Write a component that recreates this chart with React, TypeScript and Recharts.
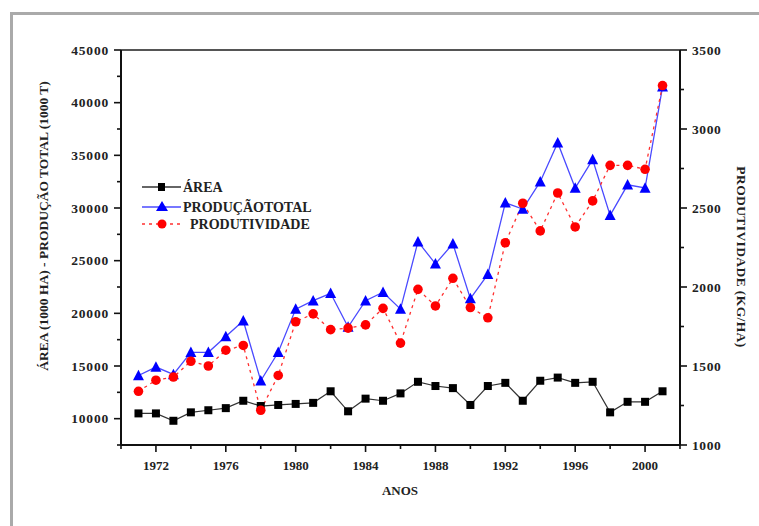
import React from "react";
import { LineChart, Line, XAxis, YAxis, ReferenceLine } from "recharts";

const years = [1971, 1972, 1973, 1974, 1975, 1976, 1977, 1978, 1979, 1980, 1981, 1982, 1983, 1984, 1985, 1986, 1987, 1988, 1989, 1990, 1991, 1992, 1993, 1994, 1995, 1996, 1997, 1998, 1999, 2000, 2001];
const area = [10500, 10500, 9800, 10600, 10800, 11000, 11700, 11200, 11300, 11400, 11500, 12600, 10700, 11900, 11700, 12400, 13500, 13100, 12900, 11300, 13100, 13400, 11700, 13600, 13900, 13400, 13500, 10600, 11600, 11600, 12600];
const producao = [14100, 14900, 14200, 16300, 16300, 17800, 19300, 13600, 16300, 20400, 21200, 21900, 18700, 21200, 22000, 20400, 26800, 24700, 26600, 21400, 23700, 30500, 29900, 32500, 36200, 31900, 34600, 29300, 32200, 31900, 41500];
const produtividade = [1340, 1410, 1430, 1530, 1500, 1600, 1630, 1220, 1440, 1780, 1830, 1730, 1740, 1760, 1865, 1645, 1985, 1880, 2055, 1870, 1805, 2280, 2530, 2355, 2595, 2380, 2545, 2770, 2770, 2745, 3275];

const xTicks = [1970, 1972, 1974, 1976, 1978, 1980, 1982, 1984, 1986, 1988, 1990, 1992, 1994, 1996, 1998, 2000, 2002];
const xMajor = [1972, 1976, 1980, 1984, 1988, 1992, 1996, 2000];
const leftTicks = [7500, 10000, 12500, 15000, 17500, 20000, 22500, 25000, 27500, 30000, 32500, 35000, 37500, 40000, 42500, 45000];
const leftMajor = [10000, 15000, 20000, 25000, 30000, 35000, 40000, 45000];
const rightTicks = [1000, 1250, 1500, 1750, 2000, 2250, 2500, 2750, 3000, 3250, 3500];
const rightMajor = [1000, 1500, 2000, 2500, 3000, 3500];

const seriesNames = ["ÁREA", "PRODUÇÃOTOTAL", "PRODUTIVIDADE"];
const leftTitle = "ÁREA (1000 HA) - PRODUÇÃO TOTAL (1000 T)";
const rightTitle = "PRODUTIVIDADE (KG/HA)";
const xTitle = "ANOS";

const data = years.map((y, i) => ({
  year: y,
  area: area[i],
  producao: producao[i],
  produtividade: produtividade[i],
}));

const FONT = '"Liberation Serif", "Times New Roman", serif';
const AX = "#111";

const LeftTick = (props: any) => {
  const { x, y, payload } = props;
  const major = leftMajor.includes(payload.value);
  return (
    <g>
      <line x1={x} x2={x - (major ? 7 : 4)} y1={y} y2={y} stroke={AX} strokeWidth={1.6} />
      {major && (
        <text x={x - 12} y={y} dy={4.5} textAnchor="end" fontFamily={FONT} fontWeight="bold" fontSize={13.5} letterSpacing={0.8} fill="#222">
          {payload.value}
        </text>
      )}
    </g>
  );
};

const RightTick = (props: any) => {
  const { x, y, payload } = props;
  const major = rightMajor.includes(payload.value);
  return (
    <g>
      <line x1={x} x2={x + (major ? 7 : 4)} y1={y} y2={y} stroke={AX} strokeWidth={1.6} />
      {major && (
        <text x={x + 12} y={y} dy={4.5} textAnchor="start" fontFamily={FONT} fontWeight="bold" fontSize={13.5} letterSpacing={0.6} fill="#222">
          {payload.value}
        </text>
      )}
    </g>
  );
};

const BottomTick = (props: any) => {
  const { x, y, payload } = props;
  const major = xMajor.includes(payload.value);
  return (
    <g>
      <line x1={x} x2={x} y1={y} y2={y + (major ? 7 : 4)} stroke={AX} strokeWidth={1.6} />
      {major && (
        <text x={x} y={y + 25} textAnchor="middle" fontFamily={FONT} fontWeight="bold" fontSize={13} fill="#222">
          {payload.value}
        </text>
      )}
    </g>
  );
};

const SquareDot = (p: any) => {
  const { cx, cy, index } = p;
  if (cx == null || cy == null) return <g key={`s${index}`} />;
  return <rect key={`s${index}`} x={cx - 4} y={cy - 4} width={8} height={8} fill="#000" />;
};

const TriDot = (p: any) => {
  const { cx, cy, index } = p;
  if (cx == null || cy == null) return <g key={`t${index}`} />;
  const h = 9.5;
  const w = 11;
  return (
    <polygon
      key={`t${index}`}
      points={`${cx},${cy - h / 2 - 1} ${cx - w / 2},${cy + h / 2} ${cx + w / 2},${cy + h / 2}`}
      fill="#0000ff"
    />
  );
};

const CircleDot = (p: any) => {
  const { cx, cy, index } = p;
  if (cx == null || cy == null) return <g key={`c${index}`} />;
  return <circle key={`c${index}`} cx={cx} cy={cy} r={4.8} fill="#ff0000" />;
};

export default function App() {
  return (
    <div style={{ position: "absolute", left: 0, top: 0, width: 759, height: 526, background: "#fff", overflow: "hidden" }}>
      <LineChart
        width={759}
        height={526}
        data={data}
        margin={{ top: 50, right: 19, bottom: 51, left: 61 }}
      >
        <XAxis
          dataKey="year"
          type="number"
          domain={[1970, 2002]}
          ticks={xTicks}
          interval={0}
          height={30}
          tickSize={0}
          tickMargin={0}
          tick={<BottomTick />}
          axisLine={{ stroke: AX, strokeWidth: 2 }}
          tickLine={false}
        />
        <YAxis
          yAxisId="left"
          orientation="left"
          domain={[7500, 45000]}
          ticks={leftTicks}
          interval={0}
          width={60}
          tickSize={0}
          tickMargin={0}
          tick={<LeftTick />}
          axisLine={{ stroke: AX, strokeWidth: 2 }}
          tickLine={false}
          allowDataOverflow
        />
        <YAxis
          yAxisId="right"
          orientation="right"
          domain={[1000, 3500]}
          ticks={rightTicks}
          interval={0}
          width={60}
          tickSize={0}
          tickMargin={0}
          tick={<RightTick />}
          axisLine={{ stroke: AX, strokeWidth: 2 }}
          tickLine={false}
          allowDataOverflow
        />
        <ReferenceLine yAxisId="left" y={45000} stroke="#555" strokeWidth={2} />
        <Line
          yAxisId="left"
          dataKey="area"
          stroke="#333"
          strokeWidth={1.2}
          dot={SquareDot}
          activeDot={false}
          isAnimationActive={false}
        />
        <Line
          yAxisId="left"
          dataKey="producao"
          stroke="#4a4aff"
          strokeWidth={1.3}
          dot={TriDot}
          activeDot={false}
          isAnimationActive={false}
        />
        <Line
          yAxisId="right"
          dataKey="produtividade"
          stroke="#ff3030"
          strokeWidth={1.3}
          strokeDasharray="3 4"
          dot={CircleDot}
          activeDot={false}
          isAnimationActive={false}
        />
      </LineChart>
      <svg width={759} height={526} style={{ position: "absolute", left: 0, top: 0, pointerEvents: "none" }}>
        <path d="M11.5,530 L11.5,13.5 L770,13.5" fill="none" stroke="#aaa" strokeWidth={3} />
        <text
          transform="translate(48,226) rotate(-90)"
          textAnchor="middle"
          fontFamily={FONT}
          fontWeight="bold"
          fontSize={13.5}
          fill="#222"
        >
          {leftTitle}
        </text>
        <text
          transform="translate(737,257) rotate(90)"
          textAnchor="middle"
          fontFamily={FONT}
          fontWeight="bold"
          fontSize={13.5}
          letterSpacing={0.4}
          fill="#222"
        >
          {rightTitle}
        </text>
        <text x={400} y={495} textAnchor="middle" fontFamily={FONT} fontWeight="bold" fontSize={13} fill="#222">
          {xTitle}
        </text>
        {/* legend */}
        <g>
          <line x1={142} x2={181} y1={187} y2={187} stroke="#333" strokeWidth={1.5} />
          <rect x={158} y={183} width={7} height={8} fill="#000" />
          <text x={183} y={192} fontFamily={FONT} fontWeight="bold" fontSize={14} fill="#222">{seriesNames[0]}</text>

          <line x1={142} x2={181} y1={207} y2={207} stroke="#4a4aff" strokeWidth={1.5} />
          <polygon points="162,201 156,211 168,211" fill="#0000ff" />
          <text x={183} y={212} fontFamily={FONT} fontWeight="bold" fontSize={14} fill="#222">{seriesNames[1]}</text>

          <line x1={142} x2={183} y1={224} y2={224} stroke="#ff3030" strokeWidth={1.3} strokeDasharray="3 4" />
          <circle cx={162} cy={224} r={4.5} fill="#ff0000" />
          <text x={190} y={229} fontFamily={FONT} fontWeight="bold" fontSize={14} fill="#222">{seriesNames[2]}</text>
        </g>
      </svg>
    </div>
  );
}
